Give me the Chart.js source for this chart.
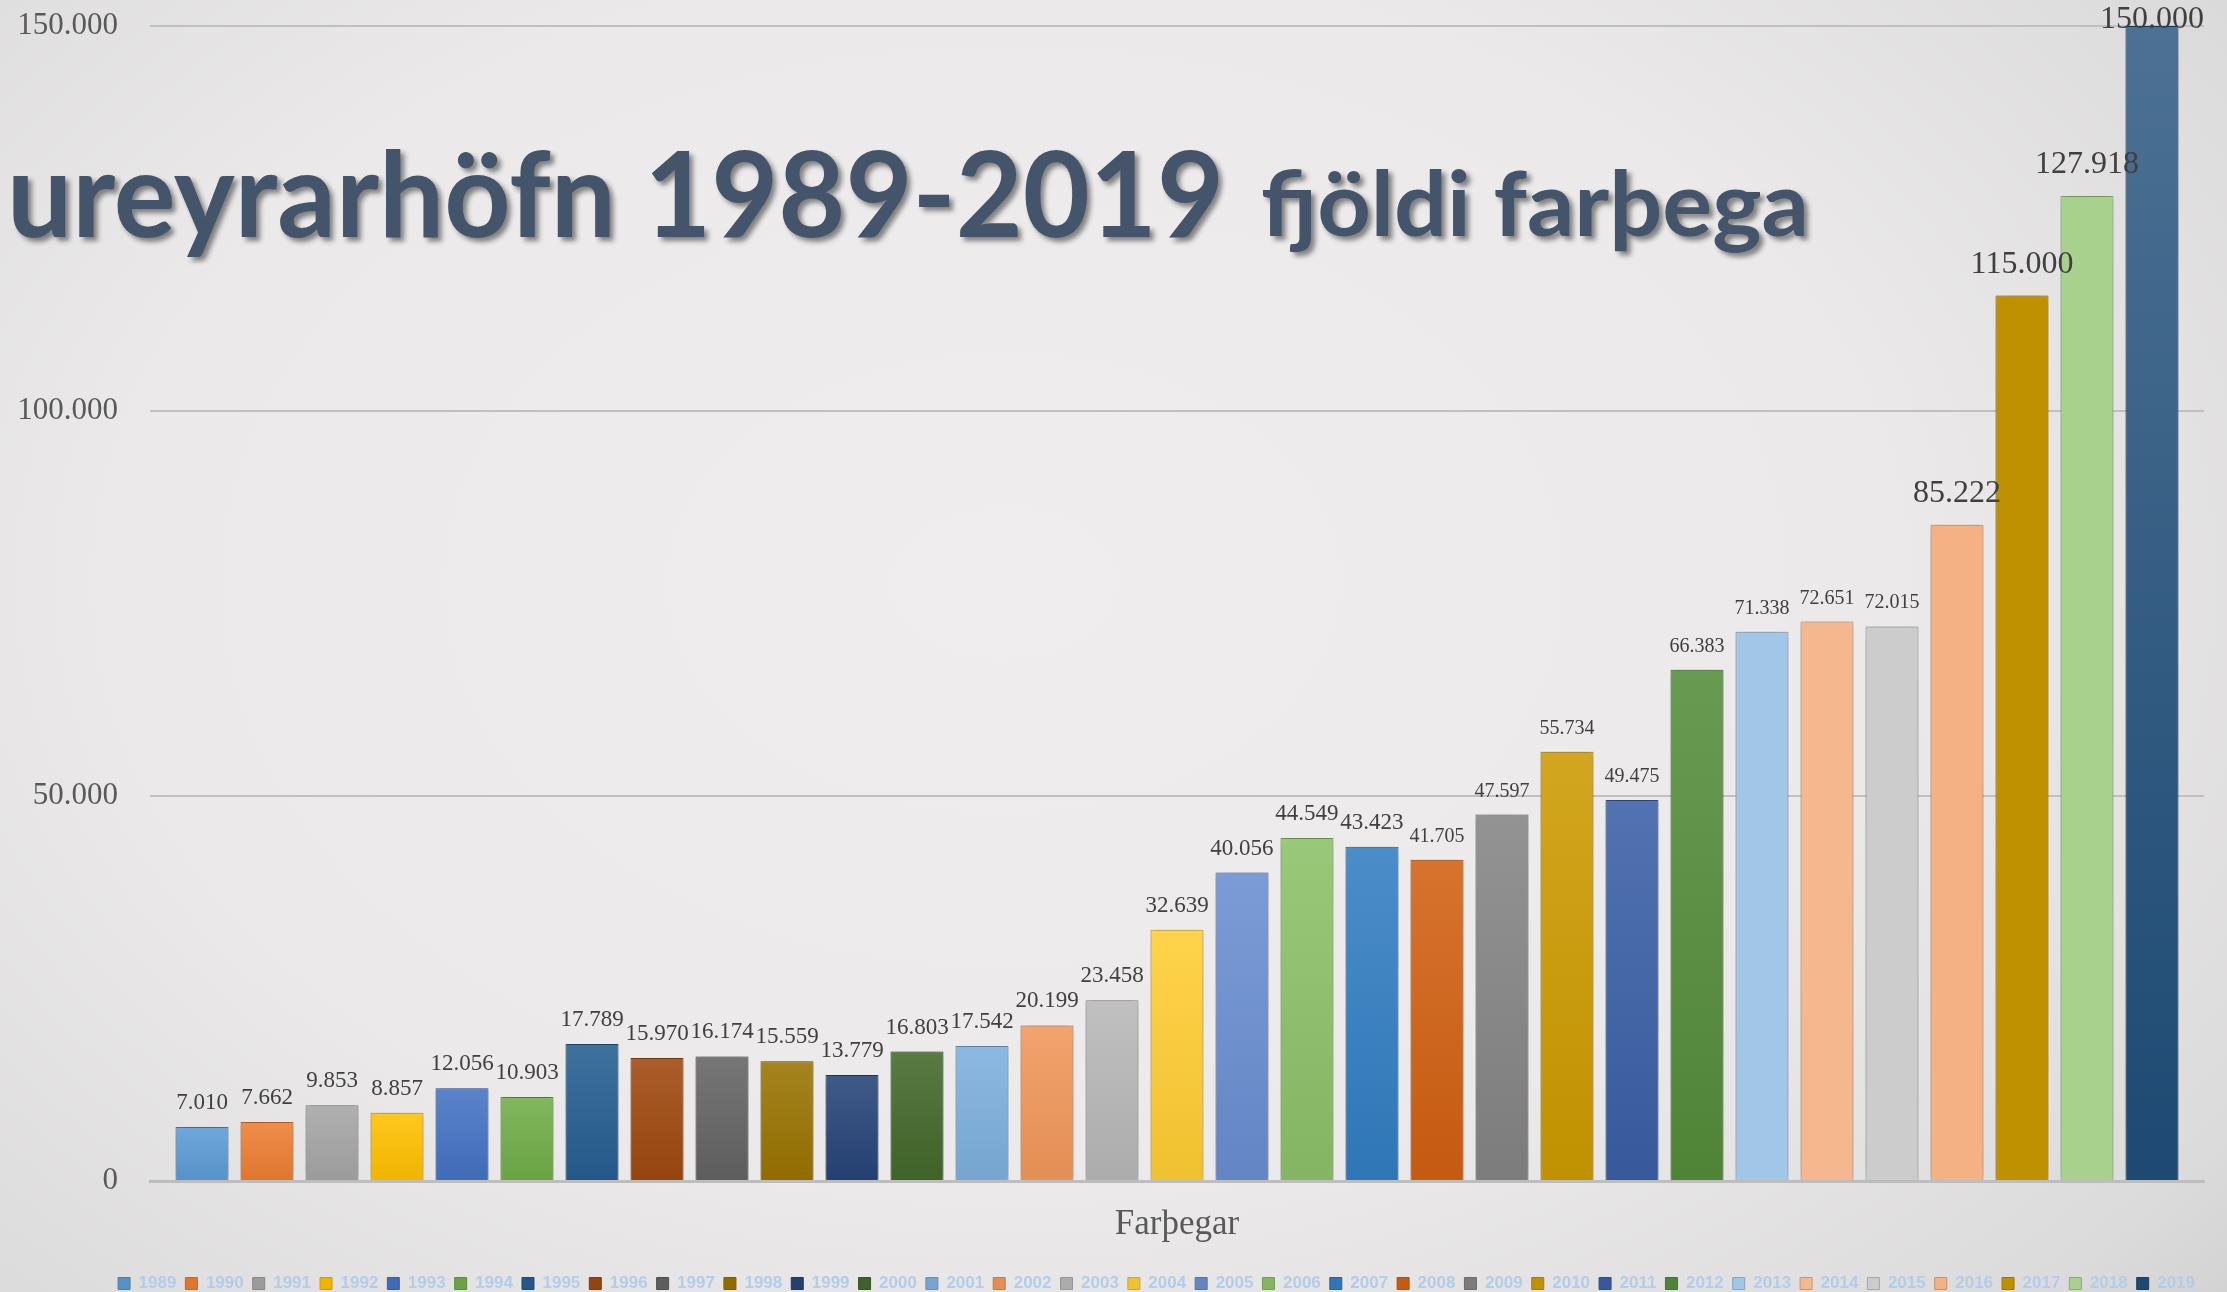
<!DOCTYPE html>
<html lang="is">
<head>
<meta charset="utf-8">
<title>Akureyrarhöfn 1989-2019 fjöldi farþega</title>
<script src="https://cdn.jsdelivr.net/npm/chart.js@4.4.1/dist/chart.umd.min.js"></script>
<style>
  html, body { margin: 0; padding: 0; width: 2227px; height: 1292px; overflow: hidden; }
  body {
    background: radial-gradient(ellipse 80% 95% at 45% 45%, #efedee 0%, #ebe9ea 50%, #dcdbdc 82%, #c9c9c9 100%);
  }
  #wrap { position: absolute; left: 0; top: 0; width: 2227px; height: 1302px; }
  .title {
    position: absolute; left: 0; top: 0; white-space: nowrap; line-height: 1;
    color: #44546a; font-family: Lato, "Open Sans", sans-serif; font-weight: 700;
    text-shadow: 4px 4px 5px rgba(0, 0, 0, .45); transform-origin: 0 0; z-index: 2;
  }
  .title .cut { color: transparent; text-shadow: none; }
  .bl { display: inline-block; width: 0; height: 0; }
</style>
</head>
<body>
<div id="wrap"><canvas id="chart"></canvas></div>
<div class="title" id="t1" style="font-size:119px"><span class="cut">Ak</span><span class="vis">ureyrarhöfn 1989-2019</span><i class="bl"></i></div>
<div class="title" id="t2" style="font-size:89px"><span class="cut"></span><span class="vis">fjöldi farþega</span><i class="bl"></i></div>
<script>
"use strict";

// ---- data ----
const categories = ["Farþegar"];
const years = ["1989", "1990", "1991", "1992", "1993", "1994", "1995", "1996", "1997", "1998",
  "1999", "2000", "2001", "2002", "2003", "2004", "2005", "2006", "2007", "2008",
  "2009", "2010", "2011", "2012", "2013", "2014", "2015", "2016", "2017", "2018", "2019"];
const passengers = [7010, 7662, 9853, 8857, 12056, 10903, 17789, 15970, 16174, 15559,
  13779, 16803, 17542, 20199, 23458, 32639, 40056, 44549, 43423, 41705,
  47597, 55734, 49475, 66383, 71338, 72651, 72015, 85222, 115000, 127918, 150000];
const yMin = 0, yMax = 150000, yStep = 50000;

// ---- styles ----
const palette = ["#5b9bd5", "#ed7d31", "#a5a5a5", "#ffc000", "#4472c4", "#70ad47", "#255e91", "#9e480e",
  "#636363", "#997300", "#264478", "#43682b", "#7cafdd", "#f1975a", "#b7b7b7", "#ffcd33",
  "#698ed0", "#8cc168", "#327dc2", "#d26012", "#848484", "#cc9a00", "#3a5fa6", "#548c3a",
  "#a2c6e8", "#f5b78d", "#cccccc", "#f4b183", "#bf9000", "#a9d18e", "#1f4e79"];
const flatBars = new Set([24, 25, 26, 27, 28, 29]);
const labelSize = (i) => (i >= 27 ? 32 : i >= 19 ? 20 : 23);
const ink = "#595959";

const fmt = (v) => String(v).replace(/\B(?=(\d{3})+(?!\d))/g, ".");

function mix(hex, target, t) {
  const n = parseInt(hex.slice(1), 16), m = parseInt(target.slice(1), 16);
  const c = [16, 8, 0].map((s) => Math.round(((n >> s) & 255) * (1 - t) + ((m >> s) & 255) * t));
  return `rgb(${c[0]},${c[1]},${c[2]})`;
}

function barFill(i) {
  return (ctx) => {
    const base = palette[i];
    if (ctx.type !== "data" || flatBars.has(i)) return base;
    const chart = ctx.chart, y = chart.scales.y;
    if (!chart.chartArea || !y) return base;
    const top = y.getPixelForValue(ctx.raw), bottom = y.getPixelForValue(0);
    if (!isFinite(top) || !isFinite(bottom) || bottom - top < 1) return base;
    const g = chart.ctx.createLinearGradient(0, top, 0, bottom);
    g.addColorStop(0, mix(base, "#ffffff", i === 30 ? 0.2 : 0.12));
    g.addColorStop(1, mix(base, "#000000", 0.06));
    return g;
  };
}

// soft halo round the bars + value labels above them
const barDecor = {
  id: "barDecor",
  beforeDatasetsDraw(chart) {
    const c = chart.ctx;
    c.save();
    c.shadowColor = "rgba(0,0,0,0.32)";
    c.shadowBlur = 9;
  },
  afterDatasetsDraw(chart) {
    const c = chart.ctx;
    c.restore();
    c.save();
    c.fillStyle = "#404040";
    c.textAlign = "center";
    c.textBaseline = "alphabetic";
    chart.data.datasets.forEach((ds, i) => {
      const el = chart.getDatasetMeta(i).data[0];
      if (!el) return;
      const size = labelSize(i);
      const gap = size > 30 ? 23 : 18;
      const y = Math.max(el.y - gap, size * 0.7 + 6);
      c.font = `${size}px "Liberation Serif", "Times New Roman", serif`;
      c.fillText(fmt(ds.data[0]), el.x, y);
    });
    c.restore();
  },
};

const datasets = years.map((yr, i) => ({
  label: yr,
  data: [passengers[i]],
  backgroundColor: barFill(i),
  borderColor: mix(palette[i], "#000000", 0.18),
  borderWidth: 1,
}));

new Chart(document.getElementById("chart"), {
  type: "bar",
  data: { labels: categories, datasets },
  options: {
    responsive: true, maintainAspectRatio: false, animation: false,
    layout: { padding: { top: 26, right: 23, bottom: 0, left: 0 } },
    datasets: { bar: { categoryPercentage: 0.981, barPercentage: 0.815 } },
    plugins: {
      tooltip: { enabled: false },
      legend: {
        position: "bottom", align: "end",
        labels: {
          boxWidth: 12, boxHeight: 12, padding: 9, color: "#b2cdea",
          font: { family: "'Liberation Sans', Arial, sans-serif", size: 17, weight: "bold" },
        },
      },
    },
    scales: {
      x: {
        grid: { display: false, drawTicks: false },
        border: { color: "#bdbdbd", width: 3 },
        ticks: { color: ink, padding: 23, font: { family: "'Liberation Serif', serif", size: 35 } },
        afterFit: (s) => { s.height = 85; },
      },
      y: {
        min: yMin, max: yMax,
        grid: { color: "#c0c0c0", lineWidth: 2, drawTicks: false },
        border: { display: false },
        ticks: {
          stepSize: yStep, color: ink, padding: 32,
          font: { family: "'Liberation Serif', serif", size: 31 },
          callback: (v) => fmt(v),
        },
        afterFit: (s) => { s.width = 150; s.paddingTop = 0; s.paddingBottom = 0; },
      },
    },
  },
  plugins: [barDecor],
});

// slide title, partly cut off at the left edge as in the original
function placeTitle(id, left, right, baseline) {
  const el = document.getElementById(id);
  const box = el.getBoundingClientRect();
  const cut = el.querySelector(".cut").getBoundingClientRect().width;
  const vis = el.querySelector(".vis").getBoundingClientRect().width;
  const b = el.querySelector(".bl").getBoundingClientRect().top - box.top;
  const s = (right - left) / vis;
  el.style.transform = `translate(${left - cut * s}px, ${baseline - b}px) scaleX(${s})`;
}
placeTitle("t1", 7, 1224, 237);
placeTitle("t2", 1261, 1809, 236);
</script>
</body>
</html>
